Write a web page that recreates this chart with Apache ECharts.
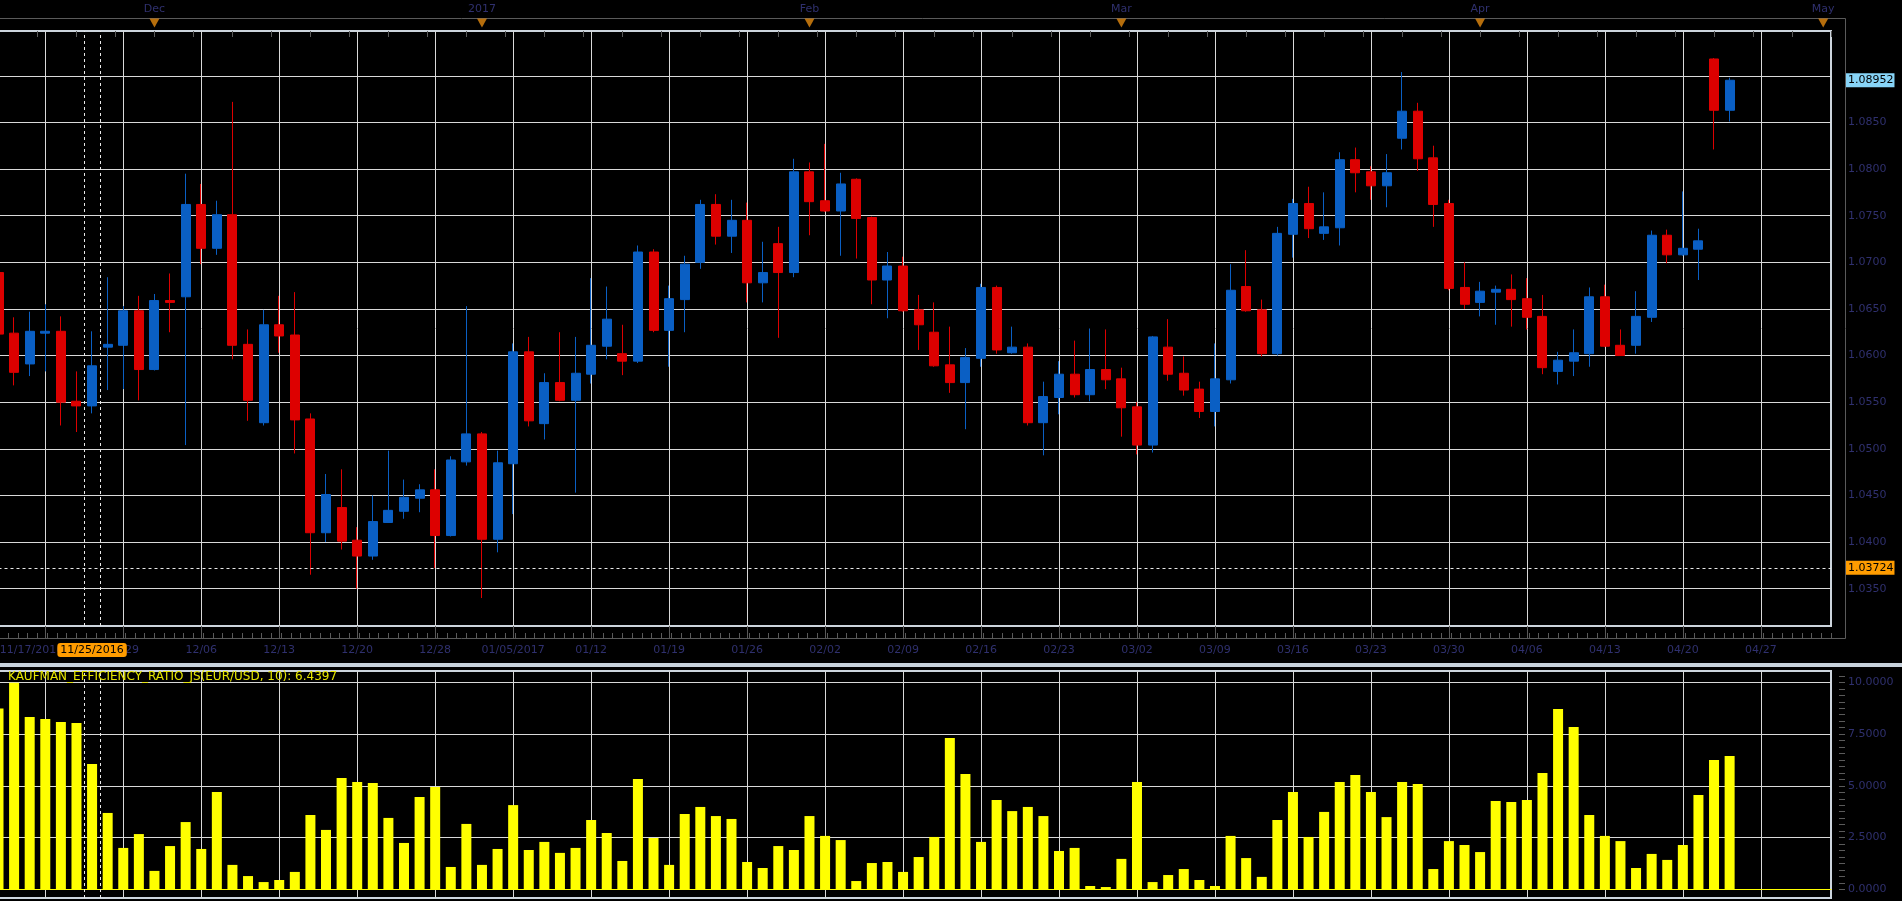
<!DOCTYPE html>
<html>
<head>
<meta charset="utf-8">
<title>EUR/USD</title>
<script src="https://cdn.jsdelivr.net/npm/echarts@6/dist/echarts.min.js"></script>
<style>
html, body { margin: 0; padding: 0; background: #000; }
#chart { width: 1902px; height: 901px; }
</style>
</head>
<body>
<div id="chart"></div>
<script>
// trading days shown on the chart (last two are future days used for the axis only)
var dates = [
    '11/17/2016','11/18/2016','11/21/2016','11/22/2016','11/23/2016','11/24/2016','11/25/2016','11/28/2016','11/29/2016','11/30/2016',
    '12/01/2016','12/02/2016','12/05/2016','12/06/2016','12/07/2016','12/08/2016','12/09/2016','12/12/2016','12/13/2016','12/14/2016',
    '12/15/2016','12/16/2016','12/19/2016','12/20/2016','12/21/2016','12/22/2016','12/23/2016','12/27/2016','12/28/2016','12/29/2016',
    '12/30/2016','01/03/2017','01/04/2017','01/05/2017','01/06/2017','01/09/2017','01/10/2017','01/11/2017','01/12/2017','01/13/2017',
    '01/16/2017','01/17/2017','01/18/2017','01/19/2017','01/20/2017','01/23/2017','01/24/2017','01/25/2017','01/26/2017','01/27/2017',
    '01/30/2017','01/31/2017','02/01/2017','02/02/2017','02/03/2017','02/06/2017','02/07/2017','02/08/2017','02/09/2017','02/10/2017',
    '02/13/2017','02/14/2017','02/15/2017','02/16/2017','02/17/2017','02/20/2017','02/21/2017','02/22/2017','02/23/2017','02/24/2017',
    '02/27/2017','02/28/2017','03/01/2017','03/02/2017','03/03/2017','03/06/2017','03/07/2017','03/08/2017','03/09/2017','03/10/2017',
    '03/13/2017','03/14/2017','03/15/2017','03/16/2017','03/17/2017','03/20/2017','03/21/2017','03/22/2017','03/23/2017','03/24/2017',
    '03/27/2017','03/28/2017','03/29/2017','03/30/2017','03/31/2017','04/03/2017','04/04/2017','04/05/2017','04/06/2017','04/07/2017',
    '04/10/2017','04/11/2017','04/12/2017','04/13/2017','04/14/2017','04/17/2017','04/18/2017','04/19/2017','04/20/2017','04/21/2017',
    '04/24/2017','04/25/2017','04/26/2017','04/27/2017'
];

var opens = [
    1.0689,1.0624,1.0591,1.0624,1.0626,1.0551,1.0546,1.0609,1.0611,1.0648,
    1.0585,1.0659,1.0663,1.0762,1.0715,1.0751,1.0612,1.0528,1.0633,1.0622,
    1.0532,1.0410,1.0437,1.0402,1.0385,1.0421,1.0433,1.0447,1.0456,1.0407,
    1.0486,1.0516,1.0403,1.0484,1.0604,1.0527,1.0571,1.0552,1.0580,1.0610,
    1.0602,1.0594,1.0711,1.0627,1.0660,1.0700,1.0762,1.0728,1.0745,1.0678,
    1.0720,1.0689,1.0797,1.0766,1.0755,1.0789,1.0748,1.0681,1.0696,1.0649,
    1.0625,1.0590,1.0571,1.0597,1.0673,1.0603,1.0609,1.0528,1.0555,1.0580,
    1.0558,1.0585,1.0575,1.0545,1.0504,1.0609,1.0581,1.0564,1.0540,1.0574,
    1.0674,1.0649,1.0602,1.0730,1.0763,1.0731,1.0737,1.0810,1.0797,1.0782,
    1.0833,1.0862,1.0812,1.0763,1.0673,1.0657,1.0668,1.0671,1.0661,1.0642,
    1.0583,1.0594,1.0602,1.0663,1.0611,1.0611,1.0641,1.0729,1.0708,1.0714,
    1.0918,1.0863
];
var closes = [
    1.0623,1.0582,1.0626,1.0626,1.0550,1.0546,1.0589,1.0612,1.0648,1.0585,
    1.0659,1.0657,1.0762,1.0715,1.0751,1.0611,1.0552,1.0633,1.0621,1.0531,
    1.0410,1.0451,1.0401,1.0385,1.0422,1.0434,1.0448,1.0456,1.0407,1.0488,
    1.0516,1.0403,1.0485,1.0604,1.0530,1.0571,1.0552,1.0581,1.0611,1.0639,
    1.0594,1.0711,1.0627,1.0661,1.0698,1.0762,1.0728,1.0745,1.0678,1.0689,
    1.0689,1.0797,1.0765,1.0755,1.0784,1.0747,1.0681,1.0696,1.0648,1.0633,
    1.0589,1.0571,1.0598,1.0673,1.0606,1.0609,1.0528,1.0556,1.0580,1.0558,
    1.0585,1.0574,1.0544,1.0504,1.0620,1.0580,1.0563,1.0540,1.0575,1.0670,
    1.0648,1.0602,1.0731,1.0763,1.0736,1.0738,1.0810,1.0796,1.0782,1.0796,
    1.0862,1.0811,1.0762,1.0672,1.0655,1.0669,1.0671,1.0660,1.0641,1.0587,
    1.0595,1.0603,1.0663,1.0610,1.0600,1.0642,1.0729,1.0708,1.0715,1.0723,
    1.0863,1.08952
];
var lows = [
    1.0618,1.0568,1.0578,1.0583,1.0525,1.0518,1.0538,1.0563,1.0564,1.0552,
    1.0584,1.0625,1.0504,1.0698,1.0708,1.0596,1.0530,1.0525,1.0603,1.0495,
    1.0365,1.0400,1.0392,1.0350,1.0381,1.0421,1.0425,1.0432,1.0372,1.0406,
    1.0482,1.0340,1.0389,1.0430,1.0524,1.0510,1.0551,1.0453,1.0570,1.0596,
    1.0579,1.0592,1.0625,1.0588,1.0625,1.0693,1.0719,1.0710,1.0657,1.0657,
    1.0619,1.0684,1.0729,1.0754,1.0707,1.0704,1.0655,1.0640,1.0647,1.0606,
    1.0588,1.0560,1.0521,1.0588,1.0602,1.0602,1.0525,1.0493,1.0537,1.0555,
    1.0551,1.0564,1.0513,1.0494,1.0496,1.0573,1.0557,1.0533,1.0524,1.0570,
    1.0647,1.0599,1.0600,1.0705,1.0726,1.0724,1.0718,1.0775,1.0767,1.0759,
    1.0821,1.0798,1.0738,1.0670,1.0650,1.0642,1.0633,1.0631,1.0628,1.0580,
    1.0569,1.0578,1.0588,1.0609,1.0600,1.0602,1.0636,1.0699,1.0707,1.0681,
    1.0821,1.0851
];
var highs = [
    1.0694,1.0641,1.0647,1.0655,1.0642,1.0583,1.0626,1.0684,1.0653,1.0664,
    1.0666,1.0688,1.0795,1.0784,1.0766,1.0872,1.0628,1.0649,1.0664,1.0668,
    1.0538,1.0473,1.0478,1.0416,1.0450,1.0498,1.0467,1.0462,1.0478,1.0492,
    1.0653,1.0518,1.0498,1.0613,1.0620,1.0581,1.0625,1.0620,1.0683,1.0674,
    1.0633,1.0718,1.0714,1.0675,1.0707,1.0767,1.0773,1.0767,1.0764,1.0722,
    1.0738,1.0811,1.0807,1.0827,1.0796,1.0790,1.0749,1.0711,1.0706,1.0665,
    1.0657,1.0631,1.0608,1.0677,1.0675,1.0631,1.0613,1.0572,1.0594,1.0616,
    1.0629,1.0628,1.0587,1.0550,1.0621,1.0639,1.0599,1.0572,1.0613,1.0698,
    1.0713,1.0660,1.0738,1.0768,1.0781,1.0775,1.0818,1.0823,1.0803,1.0816,
    1.0904,1.0871,1.0825,1.0767,1.0700,1.0679,1.0675,1.0687,1.0683,1.0665,
    1.0604,1.0628,1.0673,1.0676,1.0628,1.0669,1.0734,1.0735,1.0776,1.0736,
    1.0919,1.0898
];

// Kaufman efficiency ratio histogram
var ker = [
    8.74,9.98,8.33,8.23,8.08,8.04,6.05,3.69,2.00,2.67,
    0.89,2.09,3.25,1.95,4.70,1.18,0.64,0.35,0.45,0.84,
    3.59,2.87,5.38,5.19,5.14,3.45,2.24,4.46,4.94,1.08,
    3.16,1.18,1.95,4.07,1.90,2.29,1.76,2.00,3.35,2.72,
    1.37,5.33,2.48,1.18,3.64,3.98,3.54,3.40,1.32,1.03,
    2.09,1.90,3.54,2.58,2.38,0.40,1.27,1.32,0.84,1.56,
    2.53,7.31,5.57,2.29,4.32,3.78,3.98,3.54,1.85,2.00,
    0.16,0.11,1.47,5.19,0.35,0.69,0.98,0.45,0.16,2.58,
    1.51,0.60,3.35,4.70,2.53,3.74,5.19,5.52,4.70,3.49,
    5.19,5.09,0.98,2.33,2.14,1.80,4.27,4.22,4.32,5.62,
    8.71,7.84,3.59,2.58,2.33,1.03,1.71,1.42,2.14,4.56,
    6.25,6.4397
];

var months = ['Dec', '2017', 'Feb', 'Mar', 'Apr', 'May'];
var monthIdx = [10, 31, 52, 72, 95, 117];
var yearLabelIdx = [0, 33];
var priceTicks = [1.035, 1.040, 1.045, 1.050, 1.055, 1.060, 1.065, 1.070, 1.075, 1.080, 1.085, 1.090];
var priceLabels = [1.035, 1.040, 1.045, 1.050, 1.055, 1.060, 1.065, 1.070, 1.075, 1.080, 1.085];
var kerTicks = [0, 2.5, 5, 7.5, 10];
var refPrice = 1.03724;
var markedIdx = 6;

var BLUE = '#0a5fc4', RED = '#dd0000', GRID = '#d9d9d9', AXIS = '#5a5a5a';
var TEXT = '#2f306e', ORANGE = '#ff9c00', CYAN = '#87d4f7', FRAME = '#cdd5dd';
var FONT = 'DejaVu Sans';
var X_MAX = 117.5;

// week lines every 5 trading days
var gridIdx = [];
for (var i = 3; i < dates.length; i += 5) gridIdx.push(i);
var labelIdx = [0].concat(gridIdx.slice(1));

var minorX = [];
for (var i = 0; i <= 188; i++) minorX.push(i * 0.625);
var topTicks = [];
for (var i = 0; i <= 47; i++) topTicks.push(i * 2.5);
var priceMinor = [];
for (var k = 2062; k <= 2189; k++) priceMinor.push(k * 0.0005);
var kerMinor = [];
for (var k = 0; k <= 33; k++) kerMinor.push(k * 0.3125);

var candles = [];
for (var i = 0; i < opens.length; i++) {
    candles.push([i, opens[i], closes[i], lows[i], highs[i]]);
}
var kerData = [];
for (var i = 0; i < ker.length; i++) kerData.push([i, ker[i]]);
var monthMarks = [];
for (var i = 0; i < monthIdx.length; i++) monthMarks.push([monthIdx[i], 0.62]);

function dateLabel(v) {
    var d = dates[Math.round(v)];
    if (!d) return '';
    if (v === 0) return '{first|' + d + '}';
    if (yearLabelIdx.indexOf(v) >= 0) return d;
    return d.slice(0, 5);
}

function priceBox(bg) {
    return {
        show: true, position: 'end', distance: 15,
        formatter: function (p) { return p.value.toFixed(5); },
        backgroundColor: bg, color: '#000', padding: [2, 1, 1, 2],
        fontSize: 11, fontFamily: FONT
    };
}

var dash = {color: '#e8e8e8', type: [3, 3], width: 1};

var myChart = echarts.init(document.getElementById('chart'));

var option = {
    backgroundColor: '#000',
    animation: false,
    textStyle: {fontFamily: FONT},
    title: {
        text: 'KAUFMAN_EFFICIENCY_RATIO_JS(EUR/USD, 10): ' + ker[ker.length - 1].toFixed(4),
        left: 8, top: 671, padding: 0, z: 10,
        textStyle: {color: '#e6e600', fontSize: 12, fontWeight: 'normal', fontFamily: FONT}
    },
    axisPointer: {triggerOn: 'none'},
    grid: [
        {left: -1.5, right: 71, top: 31, height: 595, outerBoundsMode: 'none', containLabel: false,
         show: true, borderColor: FRAME, borderWidth: 2},
        {left: -1.5, right: 71, top: 671, height: 227, outerBoundsMode: 'none', containLabel: false,
         show: true, borderColor: FRAME, borderWidth: 2},
        {left: -1.5, right: 71, top: 18, height: 13, outerBoundsMode: 'none', containLabel: false}
    ],
    graphic: [
        {type: 'rect', left: 0, top: 663, shape: {width: 1902, height: 4}, style: {fill: '#c8d2dc'}, silent: true},
        {type: 'polyline', shape: {points: [[0, 18.5], [1845.5, 18.5], [1845.5, 638.5], [0, 638.5]]},
         style: {stroke: AXIS, fill: null, lineWidth: 1}, silent: true}
    ],
    xAxis: [
        {
            gridIndex: 0, type: 'value', min: 0, max: X_MAX, position: 'bottom', offset: 12,
            axisLine: {show: false},
            axisTick: {show: true, inside: true, length: 12, customValues: gridIdx, lineStyle: {color: AXIS}},
            axisLabel: {
                customValues: labelIdx, formatter: dateLabel, color: TEXT, fontSize: 11, fontFamily: FONT, margin: 7,
                rich: {first: {padding: [0, 0, 0, 66], color: TEXT, fontSize: 11, fontFamily: FONT}}
            },
            splitLine: {show: true, lineStyle: {color: GRID, width: 1}},
            axisPointer: {
                show: true, type: 'line', value: markedIdx, status: 'show', snap: false, triggerTooltip: false,
                lineStyle: {color: 'rgba(0,0,0,0)'},
                label: {
                    show: true, formatter: function (p) { return dates[Math.round(p.value)]; },
                    backgroundColor: ORANGE, color: '#000', padding: [2, 3, 1, 3], margin: 5,
                    fontSize: 11, fontFamily: FONT
                }
            }
        },
        {
            gridIndex: 0, type: 'value', min: 0, max: X_MAX, position: 'bottom', offset: 12,
            axisLine: {show: false},
            axisTick: {show: true, inside: true, length: 5, customValues: minorX, lineStyle: {color: AXIS}},
            axisLabel: {show: false}, splitLine: {show: false}
        },
        {
            gridIndex: 1, type: 'value', min: 0, max: X_MAX,
            axisLine: {show: true, onZero: true, lineStyle: {color: '#ffff00'}},
            axisTick: {show: false, customValues: gridIdx},
            axisLabel: {show: false},
            splitLine: {show: true, lineStyle: {color: GRID, width: 1}}
        },
        {
            gridIndex: 2, type: 'value', min: 0, max: X_MAX, position: 'top',
            axisLine: {show: false},
            axisTick: {show: true, inside: true, length: 6, customValues: topTicks, lineStyle: {color: AXIS}},
            axisLabel: {
                customValues: monthIdx, formatter: function (v) { return months[monthIdx.indexOf(v)]; },
                color: TEXT, fontSize: 11, fontFamily: FONT, margin: 3
            },
            splitLine: {show: false}
        }
    ],
    yAxis: [
        {
            gridIndex: 0, type: 'value', position: 'right', offset: 14, min: 1.0310, max: 1.0948,
            axisLine: {show: false},
            axisTick: {show: true, inside: true, length: 13, customValues: priceTicks, lineStyle: {color: AXIS}},
            axisLabel: {customValues: priceLabels, formatter: function (v) { return v.toFixed(4); },
                color: TEXT, fontSize: 11, fontFamily: FONT, margin: 3},
            splitLine: {show: true, lineStyle: {color: GRID, width: 1}}
        },
        {
            gridIndex: 0, type: 'value', position: 'right', offset: 14, min: 1.0310, max: 1.0948,
            axisLine: {show: false},
            axisTick: {show: true, inside: true, length: 6, customValues: priceMinor, lineStyle: {color: AXIS}},
            axisLabel: {show: false}, splitLine: {show: false}
        },
        {
            gridIndex: 1, type: 'value', position: 'right', offset: 14, min: -0.42, max: 10.55,
            axisLine: {show: true, lineStyle: {color: AXIS}},
            axisTick: {show: true, inside: true, length: 13, customValues: kerTicks, lineStyle: {color: AXIS}},
            axisLabel: {customValues: kerTicks, formatter: function (v) { return v.toFixed(4); },
                color: TEXT, fontSize: 11, fontFamily: FONT, margin: 3},
            splitLine: {show: true, lineStyle: {color: GRID, width: 1}}
        },
        {
            gridIndex: 1, type: 'value', position: 'right', offset: 14, min: -0.42, max: 10.55,
            axisLine: {show: false},
            axisTick: {show: true, inside: true, length: 6, customValues: kerMinor, lineStyle: {color: AXIS}},
            axisLabel: {show: false}, splitLine: {show: false}
        },
        {gridIndex: 2, type: 'value', min: 0, max: 1, show: false}
    ],
    series: [
        {
            name: 'EUR/USD', type: 'candlestick', xAxisIndex: 0, yAxisIndex: 0,
            data: candles, barWidth: 9.5, clip: true,
            itemStyle: {color: BLUE, color0: RED, borderColor: BLUE, borderColor0: RED, borderWidth: 1},
            markLine: {
                silent: true, symbol: ['none', 'none'], precision: 5,
                data: [
                    {yAxis: refPrice, lineStyle: dash, label: priceBox(ORANGE)},
                    {yAxis: closes[closes.length - 1], lineStyle: {color: 'rgba(0,0,0,0)'}, label: priceBox(CYAN)},
                    {xAxis: markedIdx - 0.5, lineStyle: dash, label: {show: false}},
                    {xAxis: markedIdx + 0.5, lineStyle: dash, label: {show: false}}
                ]
            }
        },
        {
            name: 'KER', type: 'bar', xAxisIndex: 2, yAxisIndex: 2,
            data: kerData, barWidth: 10,
            itemStyle: {color: '#ffff00'},
            markLine: {
                silent: true, symbol: ['none', 'none'], precision: 5,
                lineStyle: dash, label: {show: false},
                data: [{xAxis: markedIdx - 0.5}, {xAxis: markedIdx + 0.5}]
            }
        },
        {
            name: 'months', type: 'scatter', xAxisIndex: 3, yAxisIndex: 4,
            data: monthMarks, symbol: 'triangle', symbolRotate: 180, symbolSize: [10, 9],
            itemStyle: {color: '#e38a0f'}, silent: true
        }
    ]
};

if (option && typeof option === 'object') {
    myChart.setOption(option);
}
</script>
</body>
</html>
